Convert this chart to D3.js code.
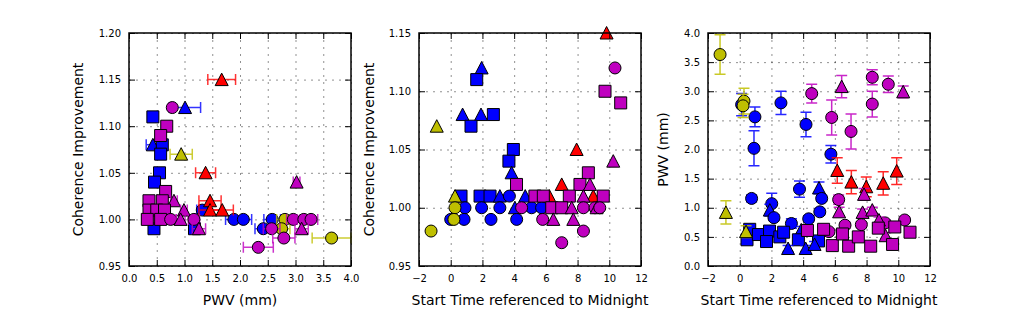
<!DOCTYPE html>
<html>
<head>
<meta charset="utf-8">
<script src="https://cdn.jsdelivr.net/npm/d3@7"></script>
<style>
body { margin: 0; background: #fff; }
text { font-family: "DejaVu Sans", sans-serif; }
.grid line { stroke: #000; stroke-opacity: 0.55; stroke-width: 0.8; stroke-dasharray: 2,5; }
.grid path, .ax path { display: none; }
.ax line { stroke: #000; stroke-width: 1; }
.ax text { font-size: 10px; fill: #000; }
.lbl { font-size: 14px; fill: #000; }
</style>
</head>
<body>
<svg width="1035" height="334"></svg>
<script>
// colour keys: b blue, r red, y yellow, m magenta ; shapes: o circle, s square, ^ triangle
var colors = {b: "#0000ff", r: "#ff0000", y: "#bfbf00", m: "#bf00bf"};
var drawOrder = {b: 0, r: 1, y: 2, m: 3};

var pwvTicks = [0, 0.5, 1, 1.5, 2, 2.5, 3, 3.5, 4];
var timeTicks = [-2, 0, 2, 4, 6, 8, 10, 12];
var coh1Ticks = [0.95, 1.00, 1.05, 1.10, 1.15, 1.20];
var coh2Ticks = [0.95, 1.00, 1.05, 1.10, 1.15];
var pwvYTicks = [0, 0.5, 1, 1.5, 2, 2.5, 3, 3.5, 4];

// panel 1: [pwv, pwv error, coherence improvement, colour, shape]
var cohVsPwv = [
  [1.67, 0.25, 1.15, "r", "^"],
  [0.78, 0.05, 1.12, "m", "o"],
  [1.01, 0.28, 1.12, "b", "^"],
  [0.43, 0.05, 1.11, "b", "s"],
  [0.68, 0.05, 1.10, "m", "s"],
  [0.57, 0.05, 1.09, "m", "s"],
  [0.43, 0.12, 1.08, "b", "^"],
  [0.60, 0.06, 1.08, "b", "s"],
  [0.57, 0.05, 1.07, "b", "s"],
  [0.94, 0.20, 1.07, "y", "^"],
  [0.55, 0.04, 1.05, "b", "s"],
  [0.46, 0.04, 1.04, "b", "s"],
  [1.38, 0.18, 1.05, "r", "^"],
  [3.02, 0.06, 1.04, "m", "^"],
  [0.66, 0.08, 1.03, "m", "s"],
  [0.36, 0.05, 1.02, "m", "s"],
  [0.60, 0.06, 1.02, "m", "s"],
  [0.81, 0.06, 1.02, "m", "^"],
  [1.46, 0.20, 1.02, "r", "^"],
  [0.36, 0.05, 1.01, "m", "s"],
  [0.50, 0.10, 1.01, "m", "s"],
  [0.64, 0.06, 1.01, "m", "s"],
  [0.99, 0.06, 1.01, "m", "^"],
  [1.32, 0.10, 1.01, "b", "o"],
  [1.46, 0.20, 1.01, "r", "^"],
  [1.68, 0.20, 1.01, "r", "^"],
  [0.33, 0.10, 1.00, "m", "s"],
  [0.57, 0.10, 1.00, "m", "s"],
  [0.75, 0.10, 1.00, "m", "o"],
  [0.93, 0.08, 1.00, "m", "^"],
  [1.17, 0.10, 1.00, "m", "o"],
  [1.89, 0.15, 1.00, "b", "o"],
  [2.06, 0.15, 1.00, "b", "o"],
  [2.58, 0.15, 1.00, "b", "o"],
  [2.81, 0.15, 1.00, "y", "o"],
  [2.96, 0.12, 1.00, "m", "o"],
  [3.15, 0.12, 1.00, "m", "o"],
  [3.28, 0.12, 1.00, "m", "o"],
  [0.45, 0.05, 0.99, "b", "s"],
  [1.18, 0.08, 0.99, "b", "s"],
  [1.26, 0.12, 0.99, "m", "^"],
  [2.42, 0.15, 0.99, "b", "o"],
  [2.57, 0.15, 0.99, "m", "o"],
  [2.75, 0.15, 0.99, "y", "o"],
  [3.11, 0.12, 0.99, "m", "^"],
  [2.79, 0.20, 0.98, "m", "o"],
  [3.65, 0.35, 0.98, "y", "o"],
  [2.33, 0.27, 0.97, "m", "o"]
];

// panel 2: [start time, coherence improvement, colour, shape]
var cohVsTime = [
  [9.83, 1.15, "r", "^"], [10.36, 1.12, "m", "o"], [9.73, 1.10, "m", "s"], [10.72, 1.09, "m", "s"],
  [1.95, 1.12, "b", "^"], [1.64, 1.11, "b", "s"], [0.75, 1.08, "b", "^"], [1.91, 1.08, "b", "^"],
  [1.28, 1.07, "b", "s"], [2.69, 1.08, "b", "s"], [-0.88, 1.07, "y", "^"], [3.95, 1.05, "b", "s"],
  [7.94, 1.05, "r", "^"], [3.67, 1.04, "b", "s"], [10.25, 1.04, "m", "^"], [3.84, 1.03, "b", "^"],
  [8.68, 1.03, "m", "s"], [4.15, 1.02, "m", "s"], [7.0, 1.02, "r", "^"], [8.15, 1.02, "m", "s"],
  [8.78, 1.02, "m", "^"],
  [0.27, 1.01, "y", "^"], [0.65, 1.01, "b", "s"], [1.85, 1.01, "b", "s"], [2.48, 1.01, "b", "s"],
  [3.1, 1.01, "b", "^"], [3.7, 1.01, "b", "o"], [4.7, 1.01, "b", "^"], [5.31, 1.01, "m", "s"],
  [5.84, 1.01, "m", "s"], [6.22, 1.01, "r", "^"], [7.48, 1.01, "m", "s"], [8.37, 1.01, "m", "^"],
  [8.99, 1.01, "r", "^"], [9.62, 1.01, "m", "s"],
  [0.27, 1.00, "y", "o"], [0.90, 1.00, "b", "o"], [1.95, 1.00, "b", "o"], [3.1, 1.00, "b", "o"],
  [4.05, 1.00, "b", "^"], [4.47, 1.00, "m", "o"], [5.1, 1.00, "b", "o"], [5.73, 1.00, "b", "o"],
  [6.37, 1.00, "m", "s"], [7.0, 1.00, "m", "s"], [7.63, 1.00, "m", "^"], [8.37, 1.00, "m", "o"],
  [9.1, 1.00, "m", "o"], [9.2, 1.00, "m", "^"], [9.4, 1.00, "m", "o"],
  [0.0, 0.99, "b", "o"], [0.2, 0.99, "y", "o"], [0.84, 0.99, "b", "o"], [2.54, 0.99, "b", "o"],
  [4.16, 0.99, "b", "o"], [5.8, 0.99, "m", "o"], [6.47, 0.99, "m", "^"], [7.73, 0.99, "m", "^"],
  [-1.24, 0.98, "y", "o"], [8.37, 0.98, "m", "o"], [7.0, 0.97, "m", "o"]
];

// panel 3: [start time, pwv, pwv error, colour, shape]
var pwvVsTime = [
  [-1.24, 3.63, 0.34, "y", "o"], [0.27, 2.83, 0.22, "y", "o"], [0.21, 2.75, 0.20, "y", "o"],
  [-0.87, 0.92, 0.20, "y", "^"], [0.40, 0.59, 0.10, "y", "^"],
  [0.12, 2.77, 0.19, "b", "o"], [0.96, 2.56, 0.17, "b", "o"], [0.90, 2.02, 0.30, "b", "o"],
  [2.60, 2.80, 0.20, "b", "o"], [4.18, 2.43, 0.21, "b", "o"], [5.75, 1.92, 0.15, "b", "o"],
  [0.75, 1.16, 0.06, "b", "o"], [2.02, 1.07, 0.18, "b", "o"], [1.90, 0.96, 0.10, "b", "^"],
  [2.16, 0.83, 0.05, "b", "o"], [3.26, 0.73, 0.08, "b", "o"], [3.77, 1.32, 0.14, "b", "o"],
  [5.00, 1.34, 0.10, "b", "^"], [5.17, 1.16, 0.05, "b", "o"], [5.05, 0.93, 0.05, "b", "o"],
  [4.35, 0.81, 0.05, "b", "o"], [3.88, 0.62, 0.06, "b", "^"],
  [0.46, 0.45, 0.05, "b", "s"], [0.63, 0.63, 0.05, "b", "s"], [1.18, 0.54, 0.05, "b", "s"],
  [1.88, 0.60, 0.05, "b", "s"], [1.69, 0.42, 0.05, "b", "s"], [2.53, 0.50, 0.05, "b", "s"],
  [2.77, 0.58, 0.05, "b", "s"], [3.70, 0.45, 0.05, "b", "s"], [4.97, 0.43, 0.05, "b", "s"],
  [3.05, 0.30, 0.05, "b", "^"], [4.16, 0.30, 0.05, "b", "^"], [4.72, 0.37, 0.05, "b", "^"],
  [6.15, 1.64, 0.22, "r", "^"], [7.04, 1.44, 0.20, "r", "^"], [7.98, 1.36, 0.17, "r", "^"],
  [9.05, 1.42, 0.20, "r", "^"], [9.90, 1.63, 0.23, "r", "^"],
  [4.54, 2.96, 0.16, "m", "o"], [6.43, 3.08, 0.19, "m", "^"], [5.80, 2.55, 0.30, "m", "o"],
  [7.02, 2.31, 0.30, "m", "o"], [8.36, 3.24, 0.13, "m", "o"], [8.36, 2.78, 0.22, "m", "o"],
  [9.37, 3.12, 0.14, "m", "o"], [10.31, 2.99, 0.10, "m", "^"],
  [6.24, 1.14, 0.08, "m", "o"], [6.27, 0.93, 0.08, "m", "^"], [7.84, 1.23, 0.10, "m", "^"],
  [7.75, 0.92, 0.06, "m", "^"], [8.36, 0.96, 0.05, "m", "^"], [6.64, 0.70, 0.05, "m", "o"],
  [7.67, 0.71, 0.05, "m", "o"], [9.17, 0.74, 0.05, "m", "o"], [10.40, 0.79, 0.05, "m", "o"],
  [8.78, 0.79, 0.05, "m", "^"], [9.20, 0.52, 0.05, "m", "^"], [5.63, 0.59, 0.05, "m", "o"],
  [4.27, 0.61, 0.04, "m", "s"], [5.29, 0.63, 0.04, "m", "s"], [5.84, 0.35, 0.04, "m", "s"],
  [6.48, 0.55, 0.04, "m", "s"], [6.87, 0.34, 0.04, "m", "s"], [7.48, 0.50, 0.04, "m", "s"],
  [8.26, 0.34, 0.04, "m", "s"], [8.74, 0.65, 0.04, "m", "s"], [9.64, 0.37, 0.04, "m", "s"],
  [9.78, 0.67, 0.04, "m", "s"], [10.74, 0.58, 0.04, "m", "s"]
];

var svg = d3.select("svg"),
    plotTop = 33, height = 233, width = 222;

var panels = [
  {left: 129, xd: [0, 4], yd: [0.95, 1.2], xt: pwvTicks, yt: coh1Ticks, xf: d3.format(".1f"), yf: d3.format(".2f"),
   xlabel: "PWV (mm)", ylabel: "Coherence Improvement", yl: -51,
   pts: cohVsPwv.map(function(d) { return {x: d[0], y: d[2], ex: d[1], ey: 0, c: d[3], s: d[4]}; })},
  {left: 419, xd: [-2, 12], yd: [0.95, 1.15], xt: timeTicks, yt: coh2Ticks, xf: d3.format("d"), yf: d3.format(".2f"),
   xlabel: "Start Time referenced to Midnight", ylabel: "Coherence Improvement", yl: -50,
   pts: cohVsTime.map(function(d) { return {x: d[0], y: d[1], ex: 0, ey: 0, c: d[2], s: d[3]}; })},
  {left: 708, xd: [-2, 12], yd: [0, 4], xt: timeTicks, yt: pwvYTicks, xf: d3.format("d"), yf: d3.format(".1f"),
   xlabel: "Start Time referenced to Midnight", ylabel: "PWV (mm)", yl: -45,
   pts: pwvVsTime.map(function(d) { return {x: d[0], y: d[1], ex: 0, ey: d[2], c: d[3], s: d[4]}; })}
];

function markerPath(s) {
  if (s === "o") return d3.symbol(d3.symbolCircle, Math.PI * 6 * 6)();
  if (s === "s") return "M-6,-6H6V6H-6Z";
  return "M0,-6.5L6.5,6H-6.5Z";
}

panels.forEach(function(p) {
  var g = svg.append("g").attr("transform", "translate(" + p.left + "," + plotTop + ")");
  var x = d3.scaleLinear().domain(p.xd).range([0, width]),
      y = d3.scaleLinear().domain(p.yd).range([height, 0]);

  // grid
  g.append("g").attr("class", "grid")
    .call(d3.axisBottom(x).tickValues(p.xt).tickSize(height).tickFormat(""));
  g.append("g").attr("class", "grid")
    .call(d3.axisLeft(y).tickValues(p.yt).tickSize(-width).tickFormat(""));

  // points, with error bars drawn under each marker
  var pts = p.pts.slice().sort(function(a, b) { return drawOrder[a.c] - drawOrder[b.c]; });
  var pt = g.selectAll(".pt").data(pts).enter().append("g").attr("class", "pt");

  pt.filter(function(d) { return d.ex > 0; }).each(function(d) {
    var s = d3.select(this), col = colors[d.c], yy = y(d.y), x0 = x(d.x - d.ex), x1 = x(d.x + d.ex);
    s.append("path")
      .attr("d", "M" + x0 + "," + yy + "H" + x1 + "M" + x0 + "," + (yy - 5.5) + "V" + (yy + 5.5) + "M" + x1 + "," + (yy - 5.5) + "V" + (yy + 5.5))
      .attr("stroke", col).attr("stroke-opacity", 0.8).attr("stroke-width", 1.5).attr("fill", "none");
  });
  pt.filter(function(d) { return d.ey > 0; }).each(function(d) {
    var s = d3.select(this), col = colors[d.c], xx = x(d.x), y0 = y(d.y - d.ey), y1 = y(d.y + d.ey);
    s.append("path")
      .attr("d", "M" + xx + "," + y0 + "V" + y1 + "M" + (xx - 5.5) + "," + y0 + "H" + (xx + 5.5) + "M" + (xx - 5.5) + "," + y1 + "H" + (xx + 5.5))
      .attr("stroke", col).attr("stroke-opacity", 0.85).attr("stroke-width", 1.5).attr("fill", "none");
  });

  pt.append("path")
    .attr("transform", function(d) { return "translate(" + x(d.x) + "," + y(d.y) + ")"; })
    .attr("d", function(d) { return markerPath(d.s); })
    .attr("fill", function(d) { return colors[d.c]; })
    .attr("stroke", "#000")
    .attr("stroke-width", 1);

  // axes with inward ticks on all sides
  g.append("g").attr("class", "ax").attr("transform", "translate(0," + height + ")")
    .call(d3.axisBottom(x).tickValues(p.xt).tickSize(-6).tickPadding(9).tickFormat(p.xf));
  g.append("g").attr("class", "ax")
    .call(d3.axisTop(x).tickValues(p.xt).tickSize(-6).tickFormat(""));
  g.append("g").attr("class", "ax")
    .call(d3.axisLeft(y).tickValues(p.yt).tickSize(-6).tickPadding(8).tickFormat(p.yf));
  g.append("g").attr("class", "ax").attr("transform", "translate(" + width + ",0)")
    .call(d3.axisRight(y).tickValues(p.yt).tickSize(-6).tickFormat(""));

  g.append("rect")
    .attr("width", width).attr("height", height)
    .attr("fill", "none").attr("stroke", "#000").attr("stroke-width", 1.5);

  g.append("text").attr("class", "lbl")
    .attr("x", width / 2).attr("y", height + 39)
    .attr("text-anchor", "middle")
    .text(p.xlabel);
  g.append("text").attr("class", "lbl")
    .attr("transform", "translate(" + p.yl + "," + (height / 2) + ") rotate(-90)")
    .attr("text-anchor", "middle")
    .attr("dy", "0.35em")
    .text(p.ylabel);
});
</script>
</body>
</html>
